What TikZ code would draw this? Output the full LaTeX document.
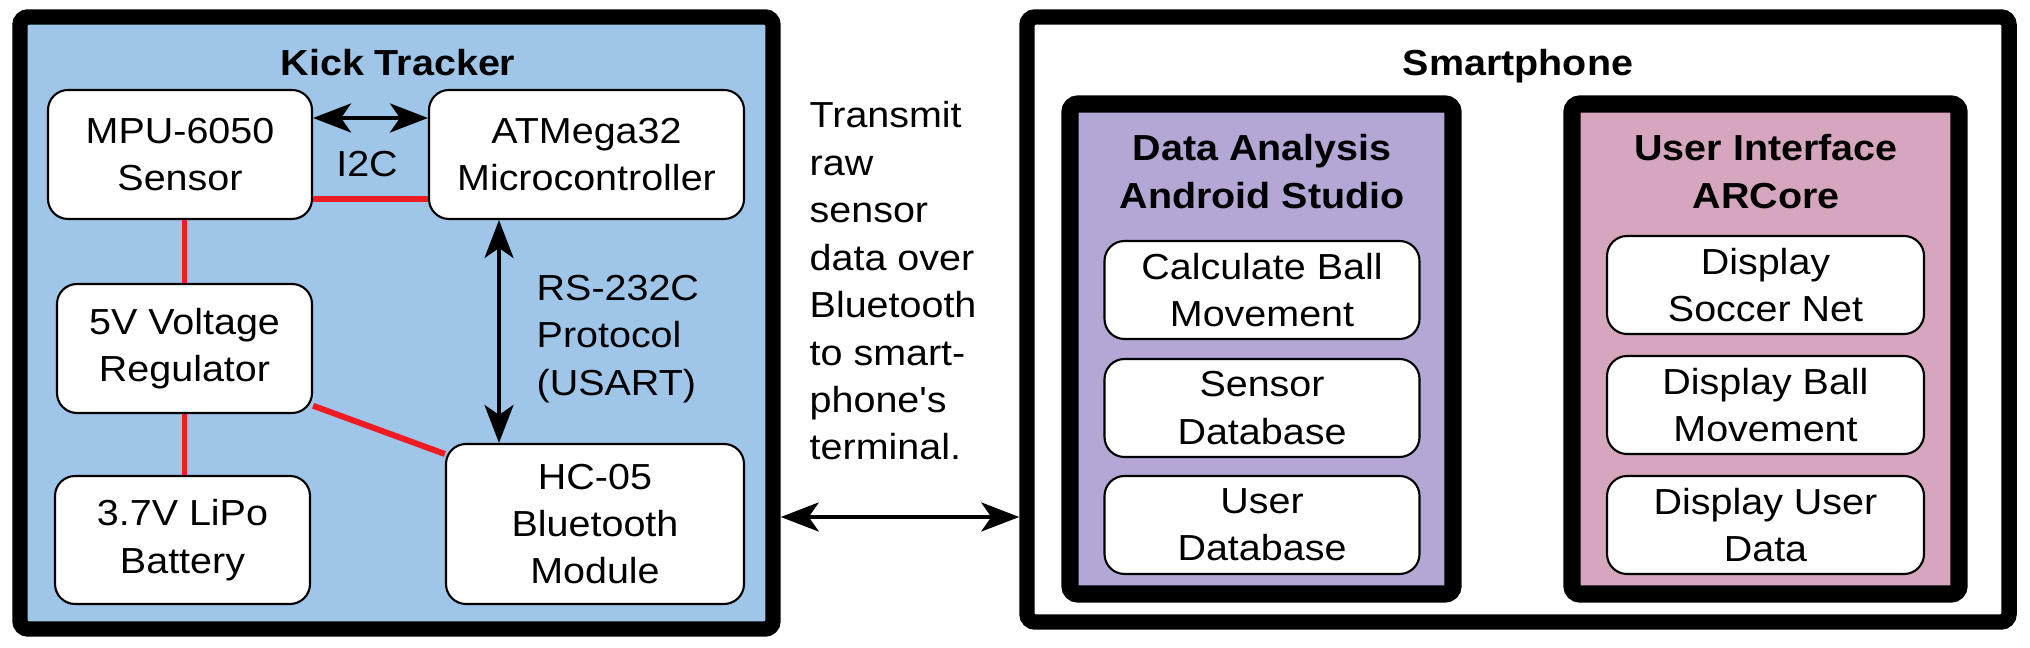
\documentclass[tikz,border=0pt]{standalone}
\usepackage{fontspec}
\setmainfont{Liberation Sans}[FakeStretch=1.09, Ligatures=TeXOff]
\usepackage{tikz}
\usetikzlibrary{arrows.meta}
\usetikzlibrary{positioning}
\definecolor{kickblue}{RGB}{159,197,232}
\definecolor{dapurple}{RGB}{180,167,214}
\definecolor{uipink}{RGB}{213,166,189}
\definecolor{wirered}{RGB}{240,28,36}

\begin{document}
\begin{tikzpicture}[x=1mm, y=-1mm,
    txt/.style={font=\fontsize{10.3}{13.5}\selectfont, inner sep=0pt},
    ttl/.style={font=\fontsize{10.3}{13.5}\selectfont\bfseries, inner sep=0pt, align=center},
    frame/.style={draw, line width=4.4pt, rounded corners=0.8mm, inner sep=0pt},
    subframe/.style={frame, line width=4.9pt},
    block/.style={txt, draw, fill=white, line width=0.6pt, rounded corners=2mm, align=center},
    wire/.style={wirered, line width=1.7pt},
    link/.style={line width=1.1pt, {Stealth[length=3.8mm,width=2.9mm,inset=1mm]}-{Stealth[length=3.8mm,width=2.9mm,inset=1mm]}}]
    \path[use as bounding box] (0, 0) rectangle (203, 64.8);

    \node[frame, fill=kickblue, minimum width=75.3mm, minimum height=61.2mm] (kick) at (39.65, 32.3) {};
    \node[frame, fill=white, minimum width=98.2mm, minimum height=60.5mm] (phone) at (151.8, 31.95) {};
    \node[subframe, fill=dapurple, minimum width=38.3mm, minimum height=49mm] (analysis) at (126.15, 34.9) {};
    \node[subframe, fill=uipink, minimum width=38.7mm, minimum height=49mm] (ui) at (176.55, 34.9) {};

    \node[ttl, anchor=base] (kicktitle) at (39.8, 7.6) {Kick Tracker};
    \node[ttl, anchor=base] (phonetitle) at (151.8, 7.6) {Smartphone};
    \node[ttl] (analysistitle) at (126.2, 17.15) {Data Analysis\\Android Studio};
    \node[ttl] (uititle) at (176.6, 17.15) {User Interface\\ARCore};

    \node[block, minimum width=26.4mm, minimum height=12.9mm] (mpu) at (18.0, 15.45) {MPU-6050\\Sensor};
    \node[block, minimum width=31.5mm, minimum height=12.9mm] (atm) at (58.65, 15.45) {ATMega32\\Microcontroller};
    \node[block, minimum width=25.5mm, minimum height=12.9mm] (reg) at (18.45, 34.85) {5V Voltage\\Regulator};
    \node[block, minimum width=25.5mm, minimum height=12.8mm] (bat) at (18.25, 54.0) {3.7V LiPo\\Battery};
    \node[block, minimum width=29.8mm, minimum height=16mm] (hc) at (59.5, 52.4) {HC-05\\Bluetooth\\Module};

    \node[block, minimum width=31.5mm, minimum height=9.8mm] (calc) at (126.2, 29.0) {Calculate Ball\\Movement};
    \node[block, minimum width=31.5mm, minimum height=9.8mm] (sensordb) at (126.2, 40.8) {Sensor\\Database};
    \node[block, minimum width=31.5mm, minimum height=9.8mm] (userdb) at (126.2, 52.5) {User\\Database};

    \node[block, minimum width=31.7mm, minimum height=9.8mm] (net) at (176.55, 28.5) {Display\\Soccer Net};
    \node[block, minimum width=31.7mm, minimum height=9.8mm] (ball) at (176.55, 40.5) {Display Ball\\Movement};
    \node[block, minimum width=31.7mm, minimum height=9.8mm] (userdata) at (176.55, 52.5) {Display User\\Data};

    \node[txt] (i2c) at (36.7, 16.45) {I2C};
    \node[txt, anchor=west, align=left] (rs) at (53.6, 33.9) {RS-232C\\Protocol\\(USART)};
    \node[txt, anchor=west, align=left] (transmit) at (80.9, 28.1) {Transmit\\raw\\sensor\\data over\\Bluetooth\\to smart-\\phone's\\terminal.};

    \draw[wire] ([yshift=2.15mm]mpu.south east) -- ([yshift=2.15mm]atm.south west);
    \draw[wire] (reg.north) -- (reg.north |- mpu.south);
    \draw[wire] (reg.south) -- (reg.south |- bat.north);
    \draw[wire] (reg.-24) -- (hc.155);

    \draw[link] ([yshift=3.65mm]mpu.east) -- ([yshift=3.65mm]atm.west);
    \draw[link] ([xshift=-8.75mm]atm.south) -- ([xshift=-8.75mm]atm.south |- hc.north);
    \coordinate (btlevel) at (0, 51.7);
    \draw[link] (kick.east |- btlevel) -- (phone.west |- btlevel);
\end{tikzpicture}
\end{document}
